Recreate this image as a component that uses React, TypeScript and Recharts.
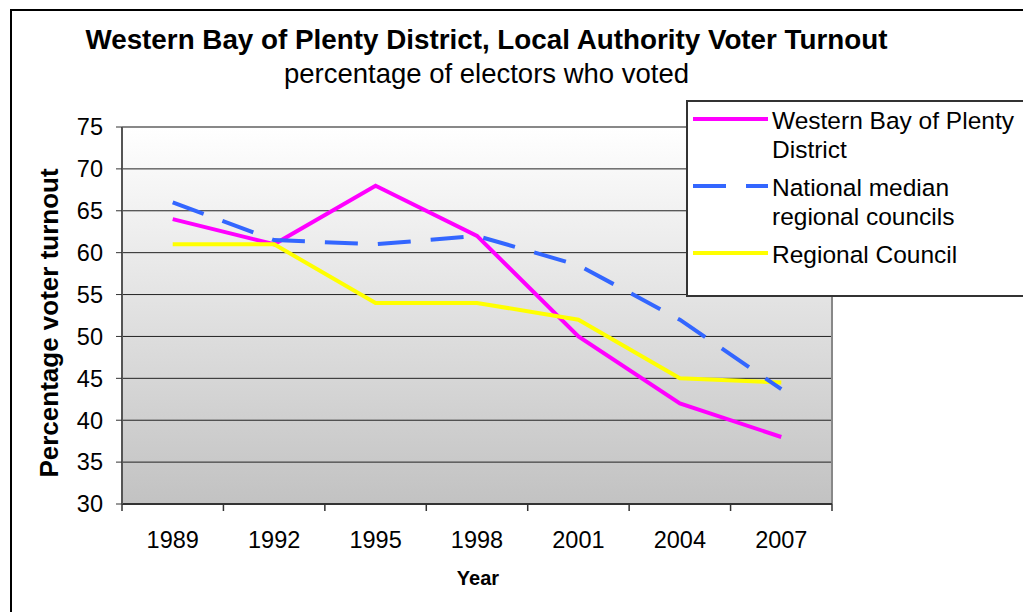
import React from 'react';
import {
  LineChart,
  Line,
  XAxis,
  YAxis,
  CartesianGrid,
  ReferenceLine,
  Legend,
} from 'recharts';

const years = ['1989', '1992', '1995', '1998', '2001', '2004', '2007'];
const westernBop = [64, 61, 68, 62, 50, 42, 38];
const nationalMedian = [66, 61.5, 61, 62, 58.5, 52, 43.7];
const regionalCouncil = [61, 61, 54, 54, 52, 45, 44.5];
const yTicks = [30, 35, 40, 45, 50, 55, 60, 65, 70, 75];

const FONT = '"Liberation Sans", Arial, Helvetica, sans-serif';

const series = [
  { key: 'wbop', name: 'Western Bay of Plenty District', color: '#FF00FF', dash: undefined as string | undefined },
  { key: 'national', name: 'National median regional councils', color: '#3366FF', dash: '33 20' },
  { key: 'regional', name: 'Regional Council', color: '#FFFF00', dash: undefined as string | undefined },
];

const data = years.map((year, i) => ({
  pos: i + 0.5,
  year,
  wbop: westernBop[i],
  national: nationalMedian[i],
  regional: regionalCouncil[i],
}));

// tick positions: category boundaries (integers) and centres (halves)
const xTicks: number[] = [];
years.forEach((_, i) => {
  xTicks.push(i);
  xTicks.push(i + 0.5);
});
xTicks.push(years.length);

function XTick(props: any) {
  const { x, y, payload } = props;
  const v = payload.value as number;
  if (Number.isInteger(v)) {
    return <line x1={x} x2={x} y1={y} y2={y + 7} stroke="#333" strokeWidth={1.5} />;
  }
  return (
    <text x={x} y={y + 44} textAnchor="middle" fontSize={23.5} fill="#000" fontFamily={FONT}>
      {years[Math.floor(v)]}
    </text>
  );
}

function LegendBox() {
  return (
    <div
      style={{
        boxSizing: 'border-box',
        width: 360,
        height: 197,
        border: '2px solid #333',
        background: '#fff',
        paddingTop: 4,
        paddingLeft: 5,
        display: 'flex',
        flexDirection: 'column',
        gap: 9,
        fontFamily: FONT,
      }}
    >
      {series.map((s) => (
        <div key={s.key} style={{ display: 'flex', alignItems: 'flex-start' }}>
          <svg width={75} height={29} style={{ flex: '0 0 auto' }}>
            <line
              x1={0}
              x2={75}
              y1={13}
              y2={13}
              stroke={s.color}
              strokeWidth={4}
              strokeDasharray={s.dash}
              strokeLinecap={s.dash ? 'butt' : 'round'}
            />
          </svg>
          <span
            style={{
              marginLeft: 4,
              width: 262,
              fontSize: 24.5,
              lineHeight: '29px',
              color: '#000',
            }}
          >
            {s.name}
          </span>
        </div>
      ))}
    </div>
  );
}

const drawOrder = ['wbop', 'regional', 'national'];

export default function App() {
  return (
    <div
      style={{
        position: 'absolute',
        left: 0,
        top: 0,
        width: 1023,
        height: 612,
        overflow: 'hidden',
        background: '#fff',
        fontFamily: FONT,
      }}
    >
      <div
        style={{
          position: 'absolute',
          left: 10,
          top: 9,
          width: 1100,
          height: 700,
          borderLeft: '2px solid #000',
          borderTop: '2px solid #000',
        }}
      />
      <div style={{ position: 'absolute', left: 0, top: 0 }}>
        <LineChart
          width={1023}
          height={612}
          data={data}
          margin={{ top: 127, right: 191, bottom: 48, left: 0 }}
        >
          <defs>
            <linearGradient id="plotBg" x1="0" y1="0" x2="0" y2="1">
              <stop offset="0%" stopColor="#FFFFFF" />
              <stop offset="100%" stopColor="#C2C2C2" />
            </linearGradient>
          </defs>
          <CartesianGrid vertical={false} stroke="#222" fill="url(#plotBg)" fillOpacity={1} />
          <XAxis
            dataKey="pos"
            type="number"
            domain={[0, years.length]}
            ticks={xTicks}
            interval={0}
            tick={<XTick />}
            tickLine={false}
            tickSize={0}
            tickMargin={0}
            height={60}
            axisLine={{ stroke: '#333', strokeWidth: 2 }}
          />
          <YAxis
            type="number"
            domain={[30, 75]}
            ticks={yTicks}
            interval={0}
            width={122}
            tickSize={6}
            tickMargin={13}
            tick={{ fontSize: 23.5, fill: '#000', fontFamily: FONT }}
            tickLine={{ stroke: '#333' }}
            axisLine={{ stroke: '#555', strokeWidth: 2 }}
          />
          <ReferenceLine y={75} stroke="#888" strokeWidth={2} />
          <ReferenceLine x={years.length} stroke="#888" strokeWidth={2} />
          {drawOrder.map((k) => {
            const s = series.find((q) => q.key === k)!;
            return (
              <Line
                key={s.key}
                type="linear"
                dataKey={s.key}
                name={s.name}
                stroke={s.color}
                strokeWidth={4}
                strokeDasharray={s.dash}
                dot={false}
                activeDot={false}
                isAnimationActive={false}
              />
            );
          })}
          <Legend
            layout="vertical"
            align="center"
            verticalAlign="middle"
            wrapperStyle={{ left: 686, top: 100, width: 360, height: 197 }}
            content={() => <LegendBox />}
          />
        </LineChart>
      </div>
      <svg
        width={1023}
        height={612}
        style={{ position: 'absolute', left: 0, top: 0, pointerEvents: 'none' }}
      >
        <text x={486.5} y={49} textAnchor="middle" fontSize={27.8} fontWeight="bold" fill="#000" fontFamily={FONT}>
          Western Bay of Plenty District, Local Authority Voter Turnout
        </text>
        <text x={486.5} y={83} textAnchor="middle" fontSize={27.5} fill="#000" fontFamily={FONT}>
          percentage of electors who voted
        </text>
        <text
          x={58}
          y={323}
          textAnchor="middle"
          fontSize={26}
          fontWeight="bold"
          fill="#000"
          fontFamily={FONT}
          transform="rotate(-90 58 323)"
        >
          Percentage voter turnout
        </text>
        <text x={478} y={585} textAnchor="middle" fontSize={20} fontWeight="bold" fill="#000" fontFamily={FONT}>
          Year
        </text>
      </svg>
    </div>
  );
}
